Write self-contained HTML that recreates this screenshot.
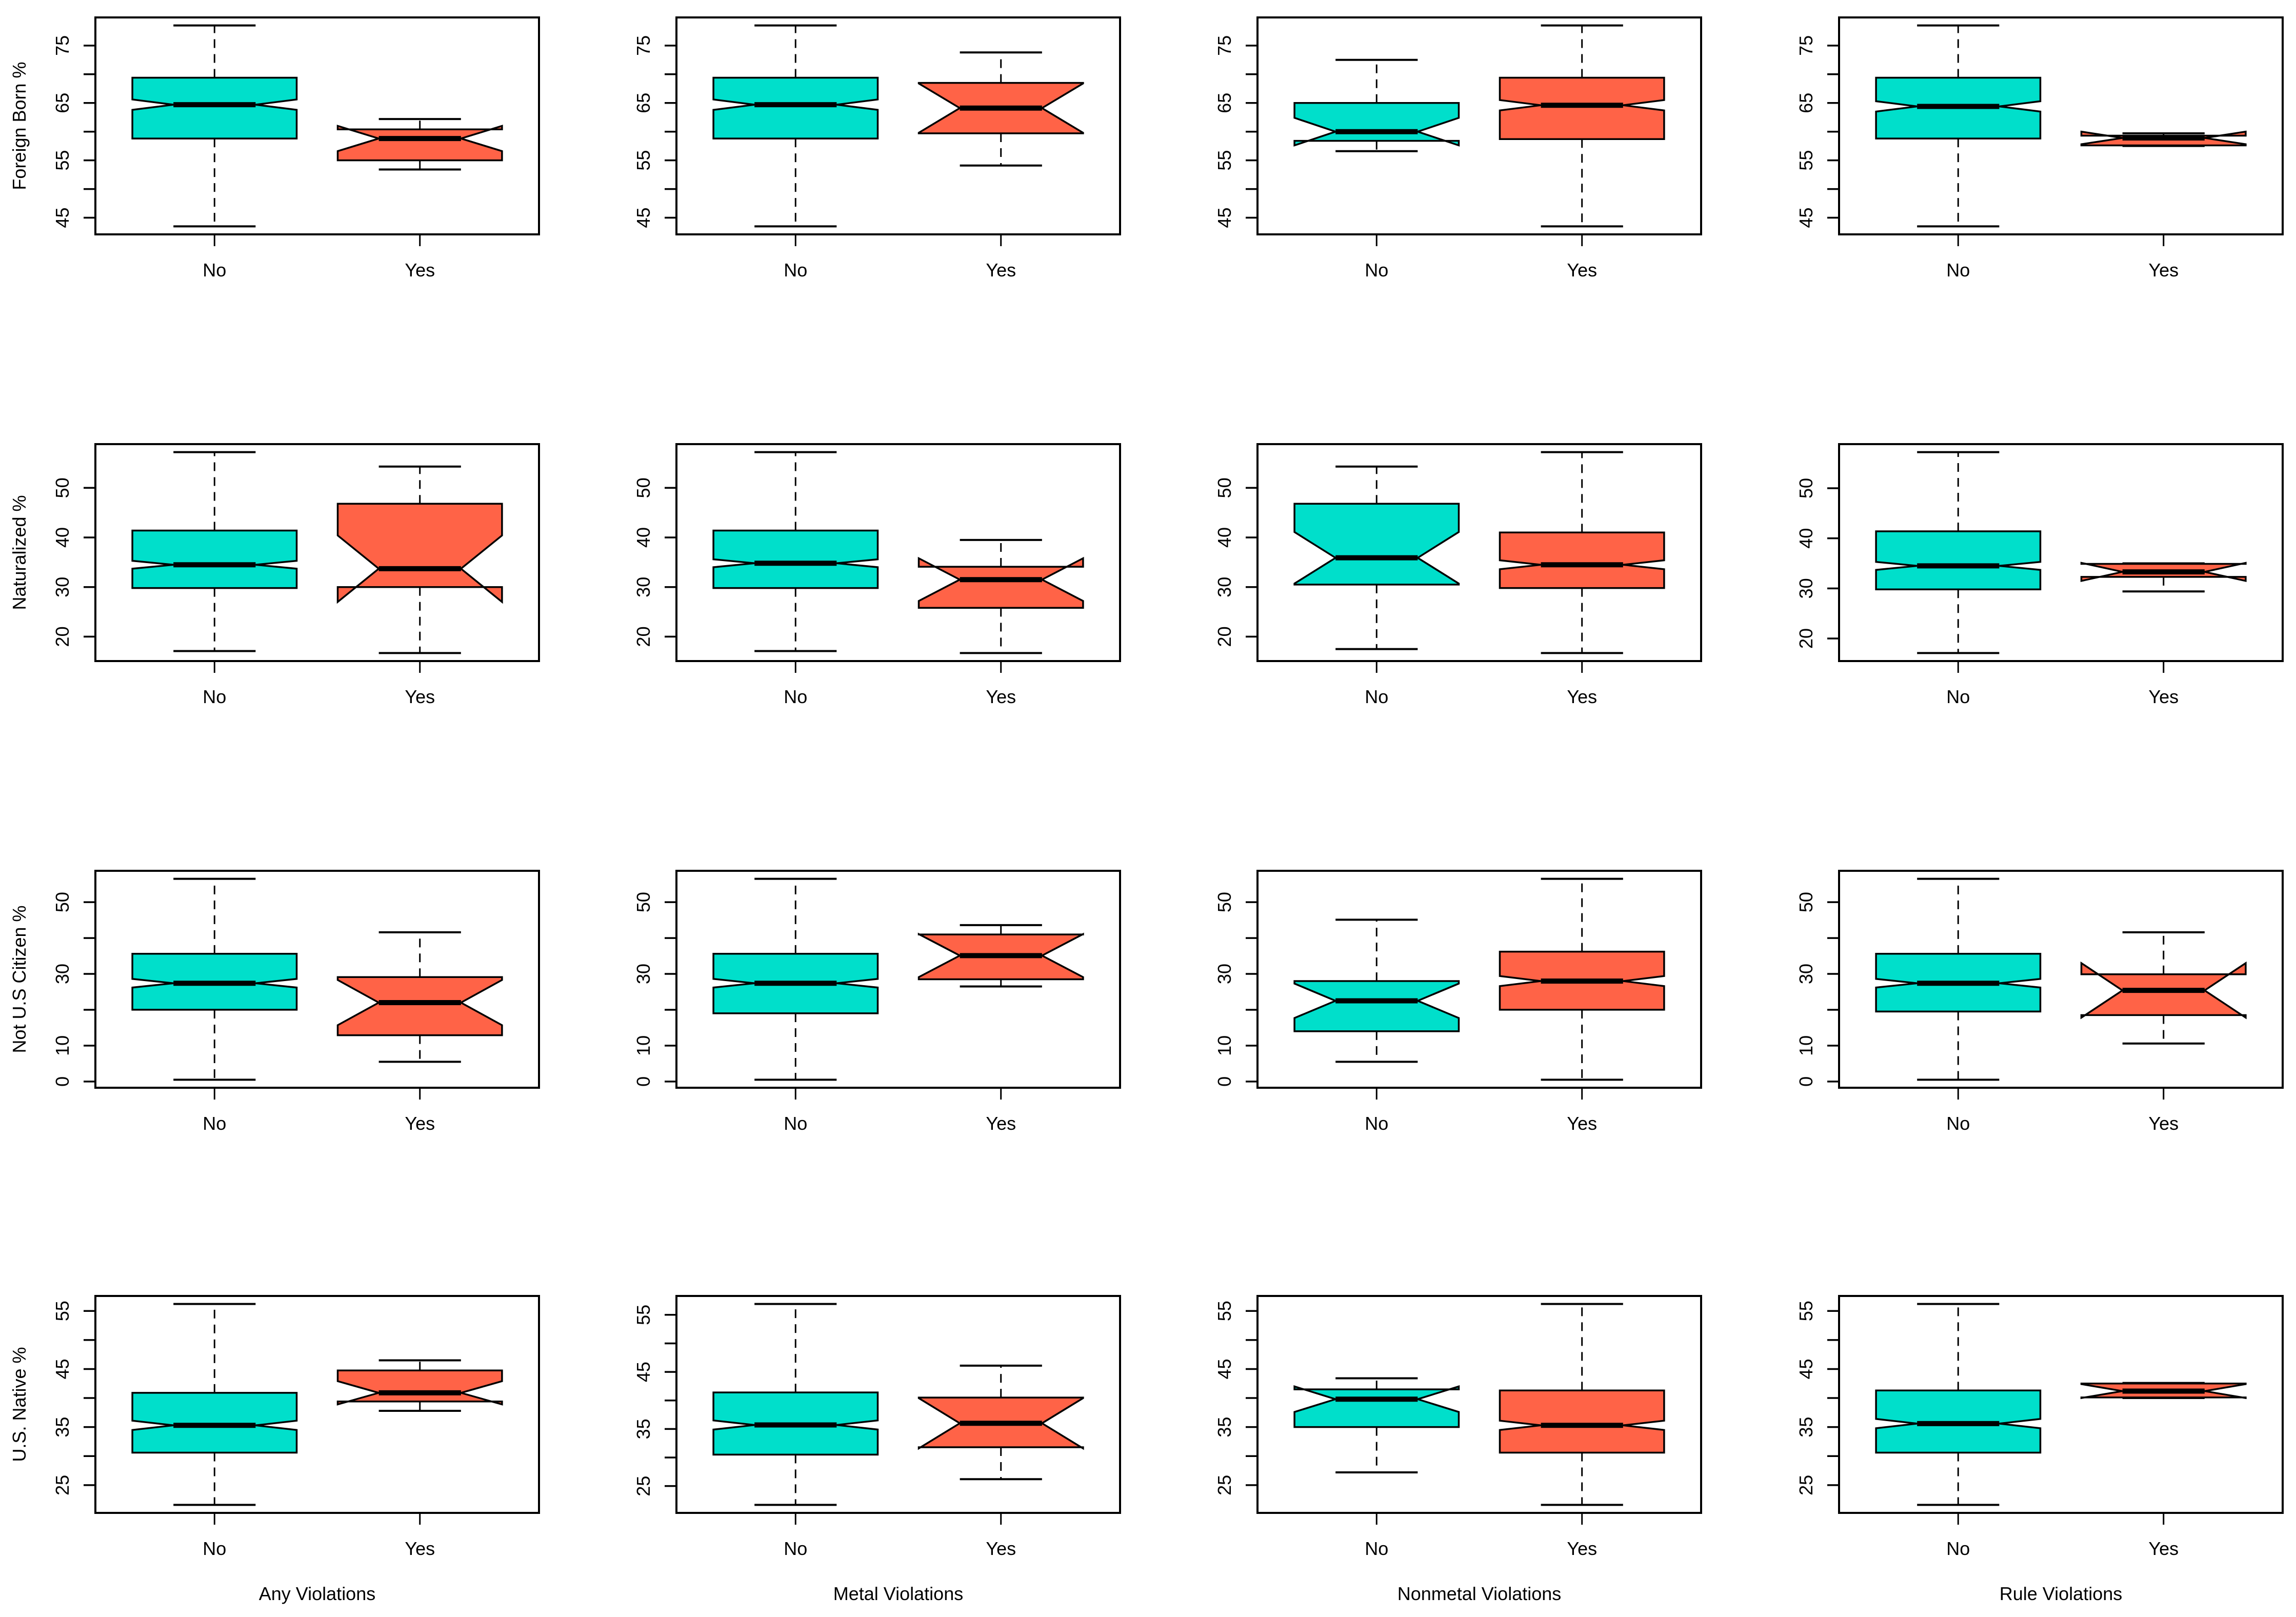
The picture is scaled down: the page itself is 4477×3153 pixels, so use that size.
<!DOCTYPE html>
<html>
<head>
<meta charset="utf-8">
<style>
  html, body { margin: 0; padding: 0; background: #ffffff; }
  svg { display: block; }
  text { font-family: "Liberation Sans", Arial, sans-serif; fill: #000; }
</style>
</head>
<body>
<svg id="chart" xmlns="http://www.w3.org/2000/svg" width="4477" height="3153" viewBox="0 0 4477 3153"></svg>
<script>
// ---- data ----
const groupLabels = ["No", "Yes"];
const colTitles = ["Any Violations", "Metal Violations", "Nonmetal Violations", "Rule Violations"];
const rowTitles = ["Foreign Born %", "Naturalized %", "Not U.S Citizen %", "U.S. Native %"];
// each box: [lowWhisker, Q1, median, Q3, highWhisker, notchHalf]
const row1No  = [[43.5,58.8,64.7,69.4,78.5,0.9],[43.5,58.8,64.7,69.4,78.5,0.9],[56.6,58.4,60.0,65.0,72.5,2.4],[43.5,58.8,64.4,69.4,78.5,0.9]];
const row1Yes = [[53.4,55.0,58.8,60.4,62.2,2.2],[54.1,59.7,64.1,68.5,73.8,4.3],[43.5,58.7,64.6,69.4,78.5,0.9],[57.5,57.6,58.9,59.3,59.7,1.1]];
const row2No  = [[17.1,29.8,34.5,41.4,57.2,0.8],[17.1,29.8,34.8,41.4,57.2,0.8],[17.5,30.5,35.9,46.8,54.3,5.2],[17.1,29.8,34.5,41.4,57.2,0.8]];
const row2Yes = [[16.7,30.0,33.7,46.8,54.3,6.7],[16.7,25.8,31.5,34.1,39.5,4.3],[16.7,29.8,34.5,41.0,57.2,0.9],[29.4,32.3,33.3,34.9,35.0,1.8]];
const row3No  = [[0.5,20.0,27.4,35.6,56.5,1.2],[0.5,19.0,27.4,35.6,56.5,1.2],[5.5,14.0,22.5,28.0,45.1,4.8],[0.5,19.5,27.4,35.6,56.5,1.2]];
const row3Yes = [[5.5,12.9,22.0,29.1,41.6,6.3],[26.5,28.5,35.1,41.0,43.6,6.0],[0.5,20.0,28.0,36.2,56.5,1.4],[10.6,18.5,25.4,29.9,41.6,7.6]];
const row4No  = [[21.6,30.6,35.3,40.9,56.2,0.8],[21.7,30.5,35.7,41.4,56.9,0.8],[27.2,35.0,39.8,41.5,43.4,2.2],[21.6,30.6,35.6,41.3,56.2,0.8]];
const row4Yes = [[37.8,39.4,40.9,44.75,46.5,2.0],[26.2,31.8,36.0,40.5,46.1,4.4],[21.6,30.6,35.3,41.3,56.2,0.8],[40.0,40.1,41.2,42.5,42.6,1.2]];
const row1Ticks = [45,50,55,60,65,70,75];
const row1Labels = [45,55,65,75];
const row2Ticks = [20,30,40,50];
const row2Labels = [20,30,40,50];
const row3Ticks = [0,10,20,30,40,50];
const row3Labels = [0,10,30,50];
const row4Ticks = [25,30,35,40,45,50,55];
const row4Labels = [25,35,45,55];

const rowsNo = [row1No, row2No, row3No, row4No];
const rowsYes = [row1Yes, row2Yes, row3Yes, row4Yes];
const rowTicks = [row1Ticks, row2Ticks, row3Ticks, row4Ticks];
const rowLabels = [row1Labels, row2Labels, row3Labels, row4Labels];

// ---- layout ----
const NS = "http://www.w3.org/2000/svg";
const svg = document.getElementById("chart");
const colLeft = [186, 1319, 2452, 3586];
const rowTop = [34, 866, 1698, 2527];
const PW = 865, PH = 423;
const colors = ["#00DFCB", "#FF6347"];

function mk(tag, attrs, parent) {
  const e = document.createElementNS(NS, tag);
  for (const k in attrs) e.setAttribute(k, attrs[k]);
  (parent || svg).appendChild(e);
  return e;
}

for (let r = 0; r < 4; r++) {
  for (let c = 0; c < 4; c++) {
    const boxes = [rowsNo[r][c], rowsYes[r][c]];
    let lo = Infinity, hi = -Infinity;
    boxes.forEach(b => {
      lo = Math.min(lo, b[0], b[2] - b[5]);
      hi = Math.max(hi, b[4], b[2] + b[5]);
    });
    const pad = (hi - lo) * 0.04;
    const y0 = lo - pad, y1 = hi + pad;
    const L = colLeft[c], T = rowTop[r];
    const yS = v => T + PH - (v - y0) / (y1 - y0) * PH;
    const xS = v => L + (v - 0.42) / 2.16 * PW;

    const g = mk("g", {});
    
    

    boxes.forEach((b, i) => {
      const cx = xS(i + 1);
      const hw = 0.4 / 2.16 * PW, nw = 0.2 / 2.16 * PW, cw = 0.2 / 2.16 * PW;
      const bg = mk("g", {}, g);
      
      
      // whiskers
      const w1 = mk("line", {x1: cx, x2: cx, y1: yS(b[3]), y2: yS(b[4]), stroke: "#000", "stroke-width": 3, "stroke-dasharray": "17 12"}, bg);
      
      
      const w2 = mk("line", {x1: cx, x2: cx, y1: yS(b[1]), y2: yS(b[0]), stroke: "#000", "stroke-width": 3, "stroke-dasharray": "17 12"}, bg);
      
      
      const c1 = mk("line", {x1: cx - cw, x2: cx + cw, y1: yS(b[4]), y2: yS(b[4]), stroke: "#000", "stroke-width": 4}, bg);
      
      
      const c2 = mk("line", {x1: cx - cw, x2: cx + cw, y1: yS(b[0]), y2: yS(b[0]), stroke: "#000", "stroke-width": 4}, bg);
      
      
      // notched box
      const q1 = yS(b[1]), q3 = yS(b[3]), md = yS(b[2]);
      const nu = yS(b[2] + b[5]), nl = yS(b[2] - b[5]);
      const pts = [
        [cx - hw, q1], [cx - hw, nl], [cx - nw, md], [cx - hw, nu], [cx - hw, q3],
        [cx + hw, q3], [cx + hw, nu], [cx + nw, md], [cx + hw, nl], [cx + hw, q1]
      ].map(p => p[0].toFixed(1) + "," + p[1].toFixed(1)).join(" ");
      const poly = mk("polygon", {points: pts, fill: colors[i], stroke: "#000", "stroke-width": 3.5, "stroke-linejoin": "miter"}, bg);
      
      
      const med = mk("line", {x1: cx - nw, x2: cx + nw, y1: md, y2: md, stroke: "#000", "stroke-width": 10}, bg);
      
      
      // x tick + label
      const xt = mk("line", {x1: cx, x2: cx, y1: T + PH, y2: T + PH + 23, stroke: "#000", "stroke-width": 3}, g);
      
      
      const xl = mk("text", {x: cx, y: T + PH + 82, "text-anchor": "middle", "font-size": 36}, g);
      
      
      xl.textContent = groupLabels[i];
    });

    // frame
    const fr = mk("rect", {x: L, y: T, width: PW, height: PH, fill: "none", stroke: "#000", "stroke-width": 4}, g);
    
    

    // y ticks
    rowTicks[r].forEach(t => {
      const y = yS(t);
      if (y < T || y > T + PH) return;
      const tk = mk("line", {x1: L - 23, x2: L, y1: y, y2: y, stroke: "#000", "stroke-width": 3.5}, g);
      
      
    });
    rowLabels[r].forEach(t => {
      const y = yS(t);
      const lx = L - 52;
      const tl = mk("text", {x: lx, y: y, "text-anchor": "middle", "font-size": 36, transform: "rotate(-90 " + lx + " " + y + ")"}, g);
      
      
      tl.textContent = t;
    });

    if (c === 0) {
      const cy = T + PH / 2;
      const at = mk("text", {x: 50, y: cy, "text-anchor": "middle", "font-size": 36, transform: "rotate(-90 50 " + cy + ")"}, g);
      
      
      at.textContent = rowTitles[r];
    }
    if (r === 3) {
      const xt = mk("text", {x: L + PW / 2, y: 3120, "text-anchor": "middle", "font-size": 36}, g);
      
      
      xt.textContent = colTitles[c];
    }
  }
}
</script>
</body>
</html>
